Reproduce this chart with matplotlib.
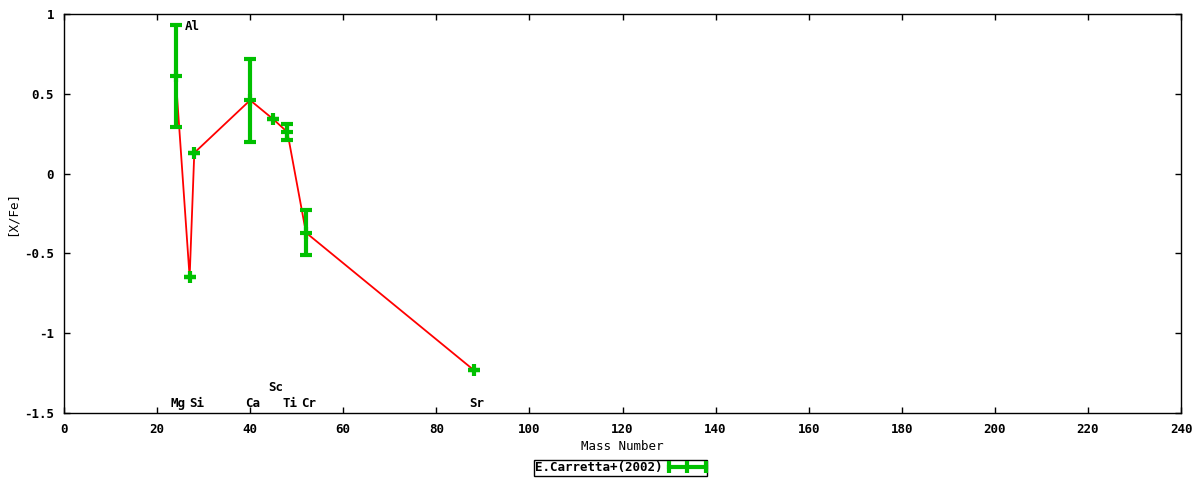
import numpy as np
import matplotlib
matplotlib.use('Agg')
import matplotlib.pyplot as plt
from matplotlib.lines import Line2D
from matplotlib.legend_handler import HandlerLine2D

plt.rcParams['font.family'] = 'DejaVu Sans Mono'
plt.rcParams['font.weight'] = 'bold'
plt.rcParams['font.size'] = 9

# E.Carretta+(2002) abundances
elements = ['Mg', 'Al', 'Si', 'Ca', 'Sc', 'Ti', 'Cr', 'Sr']
mass = np.array([24, 27, 28, 40, 45, 48, 52, 88])
xfe = np.array([0.61, -0.65, 0.13, 0.46, 0.34, 0.26, -0.37, -1.23])
err = np.array([0.32, 0.0, 0.0, 0.26, 0.0, 0.05, 0.14, 0.0])

# element label heights
label_y = [-1.44, 0.92, -1.44, -1.44, -1.34, -1.44, -1.44, -1.44]

red = '#ff0000'
green = '#00c000'

fig = plt.figure(figsize=(12, 4.8), dpi=100)
ax = fig.add_axes([0.0533, 0.1396, 0.9309, 0.8312])

ax.plot(mass, xfe, color=red, lw=1.3, zorder=2)
ax.errorbar(mass, xfe, yerr=err, fmt='+', color=green, ms=9, mew=3,
            elinewidth=3, capsize=4, capthick=3, zorder=3)

for el, m, ly in zip(elements, mass, label_y):
    ax.text(m + 0.6, ly, el, ha='center', va='center')

ax.set_xlim(0, 240)
ax.set_ylim(-1.5, 1)
ax.set_xticks(np.arange(0, 241, 20))
ax.set_yticks([-1.5, -1, -0.5, 0, 0.5, 1])
ax.set_yticklabels(['-1.5', '-1', '-0.5', '0', '0.5', '1'])
ax.tick_params(direction='in', top=True, right=True, length=4, width=1, pad=7)
for s in ax.spines.values():
    s.set_linewidth(1)

ax.set_xlabel('Mass Number', labelpad=3)
ax.set_ylabel('[X/Fe]')
ax.yaxis.set_label_coords(-0.041, 0.5)

h = Line2D([0, 1], [0, 0], color=green, lw=3, marker='|', ms=9, mew=3)
leg = fig.legend([h], ['E.Carretta+(2002)'], loc='center', bbox_to_anchor=(0.517, 0.025),
                 markerfirst=False, fancybox=False, edgecolor='black', framealpha=1,
                 handlelength=3.0, borderpad=0.1, handletextpad=0.5, borderaxespad=0,
                 handler_map={Line2D: HandlerLine2D(numpoints=3, marker_pad=0)})
leg.get_frame().set_linewidth(1)

fig.savefig('out.png', dpi=100)
